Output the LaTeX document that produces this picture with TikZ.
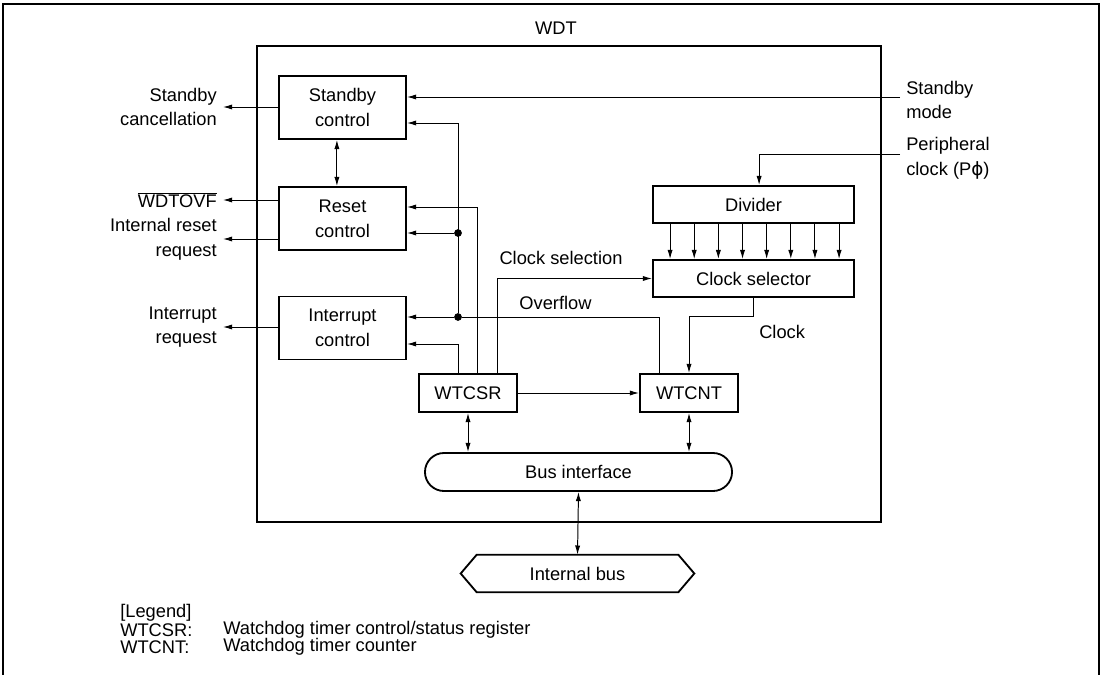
\documentclass[tikz,border=0pt]{standalone}
\usepackage{fontspec}
\setmainfont{Liberation Sans}
\newfontfamily\symfont{DejaVu Sans}
\usetikzlibrary{arrows.meta, positioning, calc}

\begin{document}
\begin{tikzpicture}[
        x=0.025cm, y=-0.025cm,
        font=\fontsize{13}{17.5}\selectfont,
        box/.style={draw, line width=1.3pt, align=center, inner sep=0pt, minimum width=3.175cm, minimum height=1.575cm},
        reg/.style={box, minimum width=2.45cm, minimum height=0.95cm},
        wide/.style={box, minimum width=5.025cm, minimum height=0.925cm},
        lbl/.style={inner sep=0pt},
        arrow/.style={-{Latex[length=2.3mm,width=1.3mm]}, line width=0.7pt},
        dual/.style={{Latex[length=2.3mm,width=1.3mm]}-{Latex[length=2.3mm,width=1.3mm]}, line width=0.7pt},
        dot/.style={circle, fill, inner sep=0pt, minimum size=5.5pt}
    ]
        \useasboundingbox (0,0) rectangle (1103,675);
        \draw[line width=1.4pt] (3,680) -- (3,4) -- (1099,4) -- (1099,680);

        % WDT module
        \node[draw, line width=1.4pt, minimum width=15.6cm, minimum height=11.9cm] (wdt) at (569,284) {};
        \node[lbl] (wdtlbl) at (556,28) {WDT};

        \node[box] (stby) at (342.5,107.5) {Standby\\control};
        \node[box] (rst) at (342.5,218.5) {Reset\\control};
        \node[box] (intr) at (342.5,328) {Interrupt\\control};
        \node[wide] (divider) at (753.5,204.5) {Divider};
        \node[wide] (clksel) at (753.5,278.5) {Clock selector};
        \node[reg] (wtcsr) at (468,393) {WTCSR};
        \node[reg] (wtcnt) at (689,393) {WTCNT};
        \node[box, rounded corners=0.475cm, minimum width=7.675cm, minimum height=0.95cm] (busif) at (578.5,472) {Bus interface};
        \node[lbl, minimum width=5.825cm, minimum height=0.925cm] (intbus) at (577.5,573.5) {Internal bus};
        \draw[line width=1.3pt] (intbus.west) -- ([xshift=0.4cm]intbus.north west) -- ([xshift=-0.4cm]intbus.north east) -- (intbus.east)
            -- ([xshift=-0.4cm]intbus.south east) -- ([xshift=0.4cm]intbus.south west) -- cycle;

        % outside signals
        \coordinate (sbcan) at (223,107);
        \coordinate (ovfout) at (223,200);
        \coordinate (rstreq) at (223,239);
        \coordinate (irq) at (223,327);
        \coordinate (sbmode) at (900,97);
        \coordinate (pclk) at (900,154);

        \node[lbl, anchor=east, align=right] (sbcanlbl) at (217,107) {Standby\\cancellation};
        \node[lbl, anchor=east] (ovfoutlbl) at (217,200) {$\overline{\mbox{WDTOVF}}$};
        \node[lbl, anchor=east, align=right] (rstreqlbl) at (217,239) {Internal reset\\request};
        \node[lbl, anchor=east, align=right] (irqlbl) at (217,327) {Interrupt\\request};
        \node[lbl, anchor=west, align=left] (sbmodelbl) at (906,100) {Standby\\mode};
        \node[lbl, anchor=west, align=left] (pclklbl) at (906,158) {Peripheral\\clock (P{\symfont ϕ})};

        \draw[arrow] (stby.west |- sbcan) -- (sbcan);
        \draw[arrow] (rst.west |- ovfout) -- (ovfout);
        \draw[arrow] (rst.west |- rstreq) -- (rstreq);
        \draw[arrow] (intr.west |- irq) -- (irq);
        \draw[arrow] (sbmode) -- (sbmode -| stby.east);
        \draw[arrow] (pclk) -| ([xshift=0.14cm]divider.north);
        \draw[dual] ([xshift=-0.14cm]stby.south) -- ([xshift=-0.14cm]rst.north);

        % overflow
        \node[dot] (ovf) at (458,317) {};
        \node[dot] (ovfrst) at (458,233) {};
        \coordinate (ovfsb) at (458,123);
        \draw[arrow] ([xshift=-0.75cm]wtcnt.north) |- (ovf) -- (ovf -| intr.east);
        \draw[arrow] (ovf) -- (ovfsb) -- (ovfsb -| stby.east);
        \draw[arrow] (ovfrst) -- (ovfrst -| rst.east);
        \node[lbl] (ovflbl) at (555.5,303) {Overflow};

        % WTCSR
        \draw[arrow] ([xshift=-0.25cm]wtcsr.north) |- ([yshift=-0.4cm]intr.east);
        \draw[arrow] ([xshift=0.225cm]wtcsr.north) |- ([yshift=0.2875cm]rst.east);
        \draw[arrow] ([xshift=0.725cm]wtcsr.north) |- (clksel.west);
        \node[lbl] (cslbl) at (561,258) {Clock selection};
        \draw[arrow] (wtcsr) -- (wtcnt);

        % clock
        \foreach \i in {0,...,7}
            \draw[arrow] ([xshift=0.45cm+\i*0.6035cm]divider.south west) -- ([xshift=0.45cm+\i*0.6035cm]clksel.north west);
        \draw[arrow] (clksel.south) -- ++(0,19) -| (wtcnt.north);
        \node[lbl, anchor=west] (clklbl) at (759,332) {Clock};

        % bus
        \draw[dual] (wtcsr.south) -- (wtcsr.south |- busif.north);
        \draw[dual] (wtcnt.south) -- (wtcnt.south |- busif.north);
        \draw[dual] (busif.south) -- (intbus.north);

        % legend
        \node[lbl, anchor=west] (legend) at (120,613) {[Legend]};
        \node[lbl, anchor=west] (leg1) at (120,630) {WTCSR:};
        \node[lbl, anchor=west] (leg1txt) at (223,630) {Watchdog timer control/status register};
        \node[lbl, anchor=west] (leg2) at (120,647) {WTCNT:};
        \node[lbl, anchor=west] (leg2txt) at (223,647) {Watchdog timer counter};
    \end{tikzpicture}
\end{document}
